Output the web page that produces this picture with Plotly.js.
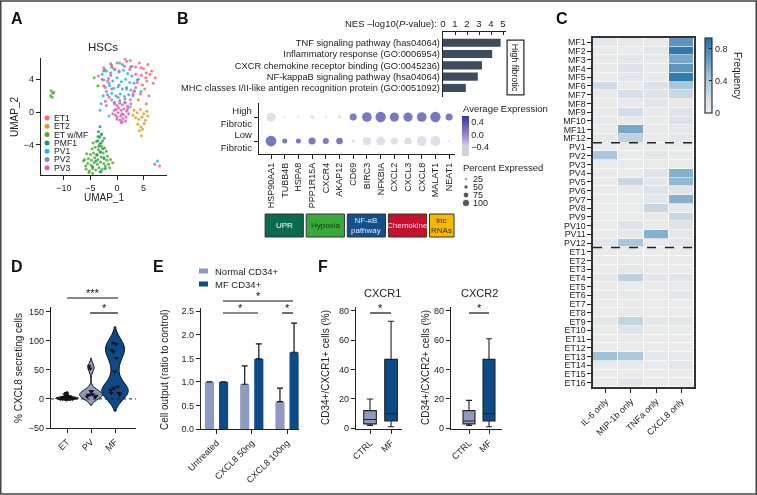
<!DOCTYPE html>
<html>
<head>
<meta charset="utf-8">
<script src="https://cdn.plot.ly/plotly-3.0.1.min.js"></script>
<style>
  html, body { margin: 0; padding: 0; background: #fff; }
  #fig { width: 757px; height: 495px; will-change: transform; }
</style>
</head>
<body>
<div id="fig"></div>
<script>
const W = 757, H = 495;
const fx = x => x / W;
const fy = y => 1 - y / H;
const FONT = "Liberation Sans, Arial, sans-serif";
const INK = "#222";

// ---- A: UMAP of HSCs ----
const umapNames = ["ET1", "ET2", "ET w/MF", "PMF1", "PV1", "PV2", "PV3"];
const umapColors = ["#f26b6b", "#d8a21f", "#4cae38", "#139a78", "#2ab2e8", "#9b7bd0", "#e85aa9"];

const et1X = [3.5, 4.2, 5.0, 5.8, 6.5, 4.6, 5.4, 6.2, 3.8, 4.8, 5.6, 6.8, 3.2, 4.4, 5.2, 6.0, 2.5, 1.5, 0.5, -1.0, 4.0, 5.5, 7.2, -2.5];
const et1Y = [5.5, 6.0, 5.3, 5.8, 5.0, 4.5, 4.2, 4.6, 3.6, 3.3, 3.8, 3.5, 2.5, 2.2, 2.8, 2.0, 6.3, 6.5, 6.0, 5.7, 1.5, 1.0, 4.2, 5.4];
const et2X = [3.2, 3.8, 4.4, 5.0, 5.6, 3.5, 4.1, 4.7, 5.3, 3.9, 4.5, 5.1, 4.2, 4.8, 4.6, 3.0, 5.8, 2.5];
const et2Y = [0.2, -0.1, 0.3, -0.2, 0.1, -0.7, -0.9, -0.6, -1.0, -1.5, -1.8, -1.4, -2.3, -2.1, -2.9, -0.4, -0.5, 0.6];
const etmfX = [-5.8, -5.2, -4.6, -4.0, -3.4, -2.8, -2.2, -1.6, -5.5, -4.9, -4.3, -3.7, -3.1, -2.5, -1.9, -6.1, -5.4, -4.8, -4.2, -3.6,
  -3.0, -2.4, -1.8, -1.2, -5.7, -5.0, -4.4, -3.8, -3.2, -2.6, -2.0, -4.7, -4.1, -3.5, -2.9, -2.3, -4.5, -3.9, -3.3, -2.7,
  -3.6, -3.0, -2.4, -5.9, -6.3, -1.4, -0.8, -5.3, -4.6, -3.2, -12.4, -12.1, -12.5, -12.2, -11.9, -4.3, -3.6, -2.5, -1.0];
const etmfY = [-7.0, -7.2, -6.9, -7.1, -6.8, -7.0, -6.6, -6.4, -6.3, -6.5, -6.2, -6.4, -6.1, -6.3, -5.9, -5.8, -5.7, -5.9, -5.6, -5.8,
  -5.5, -5.7, -5.4, -5.8, -5.1, -5.2, -5.0, -5.3, -4.9, -5.0, -4.8, -4.5, -4.3, -4.6, -4.2, -4.4, -3.8, -3.6, -3.9, -3.5,
  -3.0, -2.8, -3.2, -6.6, -6.0, -6.8, -6.2, -7.4, -7.5, -7.3, 2.6, 2.3, 2.0, 1.8, 2.4, 4.2, 3.2, 5.0, 5.5];
const pmf1X = [-3.2, -3.5, -2.9, -3.3, -3.6, -3.0, -3.4, -2.7, -3.1, -3.8, -4.0, -2.5, -4.6, -3.0, -2.2];
const pmf1Y = [-1.8, -2.4, -2.7, -3.1, -3.5, -3.8, -4.2, -4.5, -4.9, -5.2, -6.0, -5.6, -6.7, -7.3, -6.9];
const pv1X = [-2.8, -2.0, -1.2, -0.4, 0.4, 1.2, 2.0, 2.8, -2.5, -1.6, -0.8, 0.0, 0.8, 1.6, 2.4, 3.2, -2.2, -1.4, -0.6, 0.2, 1.0,
  1.8, 2.6, -1.8, -1.0, -0.2, 0.6, 1.4, 2.2, 3.0, -0.5, 0.5, 1.5, -2.6, -3.0, -3.2, 0.0, 1.0, 2.5, 4.0, 4.5, -1.5, 7.6];
const pv1Y = [4.6, 5.0, 4.8, 5.2, 4.9, 5.1, 4.7, 4.4, 3.9, 4.1, 3.8, 4.2, 3.7, 4.0, 3.6, 3.5, 3.0, 3.2, 2.9, 3.1, 2.8,
  3.0, 2.7, 2.1, 2.3, 2.0, 2.2, 1.9, 2.1, 2.0, 1.2, 1.4, 1.1, 2.0, 1.0, 0.2, 6.0, 5.8, 5.5, 4.0, 2.5, -0.5, -6.0];
const pv2X = [-1.0, 0.2, 1.5, 2.6, -2.0, -0.5, 0.9, 2.0, 3.3, -1.5, 0.4, 1.8, 3.8, 0.0, 1.0, -2.3, 2.8, 7.1];
const pv2Y = [1.5, 1.8, 1.6, 1.0, 0.8, 0.2, -0.2, 0.4, 2.6, 3.5, 3.3, 2.8, 3.9, -0.6, -1.2, 5.2, 5.6, -6.4];
const pv3X = [-0.5, 0.0, 0.5, 1.0, 1.5, 2.0, -0.2, 0.3, 0.8, 1.3, 1.8, -0.8, -0.3, 0.2, 0.7, 1.2, 1.7, 2.2, 0.0, 0.6, 1.1, 1.6,
  -1.5, -2.0, -2.5, -1.0, -1.8, -2.8, 2.5, 3.0, 3.5, -1.2, -0.6, 0.4, 1.4, 2.4, -3.5, -2.2, 0.8, 3.5, 4.5, 5.5, -1.2, 1.8, 8.0];
const pv3Y = [1.0, 0.8, 1.1, 0.9, 1.2, 0.7, 0.3, 0.5, 0.2, 0.4, 0.1, -0.2, -0.4, -0.1, -0.5, -0.3, -0.6, -0.2, -0.9, -1.0, -0.8, -1.1,
  1.8, 2.5, 3.2, 2.8, 3.8, 4.0, 1.5, 2.2, 3.0, 4.5, 5.3, 5.0, 5.6, 5.2, 4.4, 1.3, -1.3, 4.6, 5.4, 4.8, 5.9, 6.2, -6.6];
const umapX = [et1X, et2X, etmfX, pmf1X, pv1X, pv2X, pv3X];
const umapY = [et1Y, et2Y, etmfY, pmf1Y, pv1Y, pv2Y, pv3Y];

// ---- B: pathway enrichment + dot plot ----
const pathways = ["TNF signaling pathway (has04064)", "Inflammatory response (GO:0006954)",
  "CXCR chemokine receptor binding (GO:0045236)", "NF-kappaB signaling pathway (hsa04064)",
  "MHC classes I/II-like antigen recognition protein (GO:0051092)"];
const nesLogP = [4.8, 4.1, 3.25, 2.9, 1.9];

const genes = ["HSP90AA1", "TUBB4B", "HSPA8", "PPP1R15A", "CXCR4", "AKAP12", "CD69", "BIRC3", "NFKBIA", "CXCL2", "CXCL3", "CXCL8", "MALAT1", "NEAT1"];
const fibroRows = ["High Fibrotic", "Low Fibrotic"];
const exprHigh = [-0.50, -0.52, -0.52, -0.48, -0.52, -0.48, 0.50, 0.54, 0.55, 0.53, 0.52, 0.54, 0.55, 0.52];
const exprLow = [0.55, 0.52, 0.52, 0.53, 0.52, 0.52, -0.52, -0.50, -0.50, -0.50, -0.50, -0.48, -0.48, -0.55];
const pctHigh = [88, 18, 18, 38, 18, 33, 68, 92, 98, 88, 88, 92, 98, 68];
const pctLow = [102, 48, 48, 68, 58, 63, 28, 78, 84, 68, 68, 92, 94, 18];
const pctLegend = [25, 50, 75, 100];
const geneGroups = [
  { label: "UPR", first: 0, last: 2, fill: "#0b6a50", text: "#ffffff" },
  { label: "Hypoxia", first: 3, last: 5, fill: "#3aa83a", text: "#12361a" },
  { label: "NF-\u03baB<br>pathway", first: 6, last: 8, fill: "#134f8c", text: "#e2e9f6" },
  { label: "Chemokine", first: 9, last: 11, fill: "#c8102e", text: "#fde3e7" },
  { label: "lnc<br>RNAs", first: 12, last: 13, fill: "#f6b800", text: "#3a2a00" }
];

// ---- C: cytokine secretion frequency ----
const cytokines = ["IL-6 only", "MIP-1b only", "TNFa only", "CXCL8 only"];
const mfRows = ["MF1", "MF2", "MF3", "MF4", "MF5", "MF6", "MF7", "MF8", "MF9", "MF10", "MF11", "MF12"];
const pvRows = ["PV1", "PV2", "PV3", "PV4", "PV5", "PV6", "PV7", "PV8", "PV9", "PV10", "PV11", "PV12"];
const etRows = ["ET1", "ET2", "ET3", "ET4", "ET5", "ET6", "ET7", "ET8", "ET9", "ET10", "ET11", "ET12", "ET13", "ET14", "ET15", "ET16"];
const mfFreq = [[0.05, 0.03, 0.03, 0.70], [0.03, 0.02, 0.06, 0.86], [0.03, 0.06, 0.03, 0.60], [0.03, 0.12, 0.03, 0.70],
  [0.02, 0.08, 0.03, 0.86], [0.22, 0.01, 0.15, 0.40], [0.03, 0.18, 0.12, 0.25], [0.02, 0.04, 0.08, 0.04],
  [0.03, 0.20, 0.03, 0.10], [0.05, 0.03, 0.02, 0.15], [0.02, 0.60, 0.03, 0.05], [0.05, 0.30, 0.02, 0.06]];
const pvFreq = [[0.02, 0.02, 0.02, 0.02], [0.40, 0.02, 0.06, 0.03], [0.02, 0.02, 0.02, 0.02], [0.03, 0.02, 0.12, 0.55],
  [0.02, 0.25, 0.05, 0.50], [0.02, 0.02, 0.12, 0.10], [0.02, 0.02, 0.06, 0.55], [0.02, 0.02, 0.25, 0.04],
  [0.02, 0.02, 0.03, 0.25], [0.02, 0.12, 0.02, 0.10], [0.02, 0.05, 0.55, 0.05], [0.08, 0.40, 0.02, 0.08]];
const etFreq = [[0.01, 0.01, 0.01, 0.01], [0.01, 0.02, 0.01, 0.01], [0.01, 0.05, 0.01, 0.01], [0.05, 0.30, 0.08, 0.10],
  [0.01, 0.02, 0.01, 0.01], [0.03, 0.04, 0.01, 0.06], [0.01, 0.02, 0.01, 0.01], [0.01, 0.03, 0.01, 0.01],
  [0.06, 0.28, 0.05, 0.06], [0.02, 0.10, 0.02, 0.02], [0.01, 0.03, 0.01, 0.02], [0.01, 0.02, 0.01, 0.01],
  [0.45, 0.38, 0.05, 0.03], [0.01, 0.03, 0.01, 0.06], [0.01, 0.01, 0.01, 0.01], [0.01, 0.08, 0.01, 0.01]];

// ---- D: % CXCL8 secreting cells ----
const diseases = ["ET", "PV", "MF"];
const cxcl8ET = [0, 1, 2, 0, 3, 5, 8, 1, 0, 2, 1, 0, 4, 2, 1, 0, 3, 2, 10];
const cxcl8PV = [56, 52, 13, 13, 7, 4, 7, 5, 8, 3];
const cxcl8MF = [96, 94, 84, 81, 70, 47, 21, 15, 18, 7, 10, 10];

// ---- E: cell output ----
const treatments = ["Untreated", "CXCL8 50ng", "CXCL8 100ng"];
const normalOut = [1.0, 0.95, 0.58];
const normalErr = [0, 0.39, 0.29];
const mfOut = [1.0, 1.49, 1.63];
const mfErr = [0, 0.32, 0.62];

// ---- F: CXCR1 / CXCR2 ----
const fGroups = ["CTRL", "MF"];
const cxcr1Stats = { lo: [2, 1], q1: [3, 5], med: [6, 10], q3: [12, 47], hi: [20, 73] };
const cxcr2Stats = { lo: [2, 1], q1: [3, 5], med: [5, 10], q3: [12, 47], hi: [19, 61] };

// significance brackets (pixel positions on the page)
const sigBars = [
  { x0: 67, x1: 118, y: 298, text: "***" },
  { x0: 90, x1: 118, y: 313, text: "*" },
  { x0: 223, x1: 293, y: 301, text: "*" },
  { x0: 223, x1: 258, y: 313, text: "*" },
  { x0: 282, x1: 293, y: 313, text: "*" },
  { x0: 370, x1: 391, y: 313, text: "*" },
  { x0: 469, x1: 489, y: 313, text: "*" }
];

const normalColor = "#8e9ac0";
const mfColor = "#0d4a88";

function ax(domain, range, extra) {
  return Object.assign({
    domain, range, showgrid: false, zeroline: false, showline: true,
    linecolor: INK, linewidth: 1.2, ticks: "outside", ticklen: 4, tickwidth: 1, tickcolor: INK,
    tickfont: { family: FONT, size: 9, color: INK }, fixedrange: true
  }, extra || {});
}

const traces = [];
const shapes = [];
const annotations = [];

function label(text, x, y, opts) {
  annotations.push(Object.assign({
    text, x: fx(x), y: fy(y), xref: "paper", yref: "paper", showarrow: false,
    font: { family: FONT, size: 9, color: INK }, xanchor: "center", yanchor: "middle"
  }, opts || {}));
}

// A
umapNames.forEach((name, i) => {
  traces.push({
    type: "scatter", mode: "markers", x: umapX[i], y: umapY[i], xaxis: "x", yaxis: "y",
    marker: { size: 3, color: umapColors[i], opacity: 0.85 }, hoverinfo: "skip"
  });
});
traces.push({
  type: "scatter", mode: "markers", xaxis: "x9", yaxis: "y9",
  x: umapNames.map(() => 47), y: umapNames.map((n, i) => 118 + i * 8.3),
  marker: { size: 5, color: umapColors }, hoverinfo: "skip"
});
umapNames.forEach((name, i) => label(name, 52, 118 + i * 8.3, { xanchor: "left", font: { family: FONT, size: 8.6, color: INK } }));

// B bars
traces.push({
  type: "bar", orientation: "h", x: nesLogP, y: pathways, xaxis: "x2", yaxis: "y2",
  marker: { color: "#3f4b5e" }, width: 0.72, hoverinfo: "skip"
});

// B dot plot
traces.push({
  type: "scatter", mode: "markers", xaxis: "x3", yaxis: "y3",
  x: genes.concat(genes), y: genes.map(() => fibroRows[0]).concat(genes.map(() => fibroRows[1])),
  marker: {
    size: pctHigh.concat(pctLow).map(p => p * 0.105),
    color: exprHigh.concat(exprLow), cmin: -0.68, cmax: 0.6,
    colorscale: [[0, "#d2d2d4"], [0.25, "#d6cee6"], [0.55, "#9580c4"], [1, "#3437a6"]],
    line: { width: 0 },
    colorbar: {
      x: fx(462), xanchor: "left", y: fy(136), yanchor: "middle", len: 40 / H, lenmode: "fraction",
      thickness: 7, outlinewidth: 0, tickvals: [-0.4, 0, 0.4], ticktext: ["\u22120.4", "0.0", "0.4"],
      ticks: "", tickfont: { family: FONT, size: 9, color: INK }, xpad: 0, ypad: 0
    }
  },
  hoverinfo: "skip"
});
traces.push({
  type: "scatter", mode: "markers", xaxis: "x9", yaxis: "y9",
  x: pctLegend.map(() => 466), y: pctLegend.map((p, i) => 179 + i * 8),
  marker: { size: pctLegend.map(p => 1.2 + p * 0.062), color: "#111" }, hoverinfo: "skip"
});
pctLegend.forEach((p, i) => label(String(p), 471, 179 + i * 8, { xanchor: "left" }));
label("Average Expression", 461, 109, { xanchor: "left", font: { family: FONT, size: 9.5, color: INK } });
label("Percent Expressed", 461, 168, { xanchor: "left", font: { family: FONT, size: 9.5, color: INK } });
label("NES \u2013log10(<i>P</i>-value):", 439, 24, { xanchor: "right", font: { family: FONT, size: 9.5, color: INK } });
label("High fibrotic", 515.5, 67, {
  textangle: 90, bordercolor: INK, borderwidth: 1.2, borderpad: 3
});
geneGroups.forEach(g => {
  shapes.push({
    type: "rect", xref: "x3", yref: "paper", x0: g.first - 0.43, x1: g.last + 0.36, y0: fy(237), y1: fy(214),
    fillcolor: g.fill, line: { color: "#333", width: 1 }
  });
  annotations.push({
    text: g.label, xref: "x3", yref: "paper", x: (g.first + g.last) / 2 - 0.04, y: fy(225.5), showarrow: false,
    font: { family: FONT, size: 8, color: g.text }, xanchor: "center", yanchor: "middle"
  });
});

// C heatmap
const heatRows = mfRows.concat(pvRows, etRows);
traces.push({
  type: "heatmap", x: cytokines, y: heatRows, z: mfFreq.concat(pvFreq, etFreq), xaxis: "x4", yaxis: "y4",
  zmin: 0, zmax: 0.93, xgap: 1, ygap: 0.6,
  colorscale: [[0, "#ebebeb"], [0.2, "#d6dee6"], [0.5, "#9dbfd6"], [1, "#1d6ea6"]],
  colorbar: {
    x: fx(705), xanchor: "left", y: fy(75.5), yanchor: "middle", len: 75 / H, lenmode: "fraction",
    thickness: 7, outlinewidth: 1.2, outlinecolor: "#333", tickvals: [0, 0.4, 0.8], ticktext: ["0", "0.4", "0.8"],
    ticks: "inside", ticklen: 3, tickcolor: "#222", tickfont: { family: FONT, size: 9, color: INK }, xpad: 0, ypad: 0
  },
  hoverinfo: "skip"
});
[mfRows.length - 0.5, mfRows.length + pvRows.length - 0.5].forEach(yv => {
  shapes.push({ type: "line", xref: "x4", yref: "y4", x0: -0.5, x1: 3.55, y0: yv, y1: yv, line: { color: "#222", width: 1.5, dash: "dash" } });
});
label("Frequency", 737, 75, { textangle: 90, font: { family: FONT, size: 10, color: INK } });

// D violins
[[cxcl8ET, "#3a3a3a", 0.95, 1.6], [cxcl8PV, normalColor, 0.95, 7], [cxcl8MF, mfColor, 1.1, 14]].forEach((d, i) => {
  traces.push({
    type: "violin", x0: diseases[i], y: d[0], xaxis: "x5", yaxis: "y5", width: d[2], bandwidth: d[3],
    spanmode: "soft", fillcolor: d[1], line: { color: "#111", width: 1 }, points: "all", pointpos: 0, jitter: 0.7,
    marker: { symbol: "triangle-down", size: 4.5, color: "#111" }, box: { visible: false }, meanline: { visible: false },
    hoverinfo: "skip", opacity: 1
  });
});
shapes.push({ type: "line", xref: "x5", yref: "y5", x0: -0.667, x1: 2.875, y0: 0, y1: 0, line: { color: "#222", width: 1, dash: "dot" } });

// E bars
traces.push({
  type: "bar", x: treatments, y: normalOut, xaxis: "x6", yaxis: "y6", width: 0.26, offset: -0.33,
  marker: { color: normalColor }, hoverinfo: "skip",
  error_y: { type: "data", symmetric: false, array: normalErr, arrayminus: normalOut.map(() => 0), color: "#111", thickness: 1.2, width: 3 }
});
traces.push({
  type: "bar", x: treatments, y: mfOut, xaxis: "x6", yaxis: "y6", width: 0.26, offset: 0.07,
  marker: { color: mfColor }, hoverinfo: "skip",
  error_y: { type: "data", symmetric: false, array: mfErr, arrayminus: mfOut.map(() => 0), color: "#111", thickness: 1.2, width: 3 }
});
[["Normal CD34+", normalColor], ["MF CD34+", mfColor]].forEach((it, i) => {
  const y = 271 + i * 13;
  shapes.push({ type: "rect", xref: "x9", yref: "y9", x0: 199, x1: 208, y0: y - 2.5, y1: y + 2.5, fillcolor: it[1], line: { width: 0 } });
  label(it[0], 213, y, { xanchor: "left", font: { family: FONT, size: 9.5, color: INK } });
});

// F boxes
function boxes(stats, xa, ya) {
  fGroups.forEach((g, i) => {
    traces.push({
      type: "box", x: [g], q1: [stats.q1[i]], median: [stats.med[i]], q3: [stats.q3[i]],
      lowerfence: [stats.lo[i]], upperfence: [stats.hi[i]], xaxis: xa, yaxis: ya,
      fillcolor: i === 0 ? normalColor : mfColor, line: { color: "#222", width: 1.1 },
      width: 0.6, whiskerwidth: 0.5, boxpoints: false, hoverinfo: "skip"
    });
  });
}
boxes(cxcr1Stats, "x7", "y7");
boxes(cxcr2Stats, "x8", "y8");

// significance brackets
sigBars.forEach(s => {
  shapes.push({ type: "line", xref: "x9", yref: "y9", x0: s.x0, x1: s.x1, y0: s.y, y1: s.y, line: { color: "#111", width: 1.2 } });
  annotations.push({
    text: s.text, xref: "x9", yref: "y9", x: (s.x0 + s.x1) / 2, y: s.y + 3, showarrow: false,
    xanchor: "center", yanchor: "bottom", font: { family: FONT, size: 11, color: "#111" }
  });
});

// titles and labels
const panelFont = { family: FONT, size: 16, color: "#111" };
[["A", 16.5, 18.5], ["B", 182.5, 18.5], ["C", 562, 18.5], ["D", 16.5, 266], ["E", 158.5, 266], ["F", 323, 266]]
  .forEach(p => label("<b>" + p[0] + "</b>", p[1], p[2], { font: panelFont }));
label("HSCs", 103, 47, { font: { family: FONT, size: 11.5, color: INK } });
label("UMAP_1", 104, 197, { font: { family: FONT, size: 10, color: INK } });
label("UMAP_2", 15, 117, { textangle: -90, font: { family: FONT, size: 10, color: INK } });
label("% CXCL8 secreting cells", 18, 368, { textangle: -90, font: { family: FONT, size: 10, color: INK } });
label("Cell output (ratio to control)", 164, 370, { textangle: -90, font: { family: FONT, size: 10, color: INK } });
label("CD34+/CXCR1+ cells (%)", 325, 368, { textangle: -90, font: { family: FONT, size: 10, color: INK } });
label("CD34+/CXCR2+ cells (%)", 425, 368, { textangle: -90, font: { family: FONT, size: 10, color: INK } });
label("CXCR1", 382, 293, { font: { family: FONT, size: 11, color: INK } });
label("CXCR2", 479, 293, { font: { family: FONT, size: 11, color: INK } });

shapes.push({ type: "rect", xref: "paper", yref: "paper", x0: 0.001, x1: 0.999, y0: 0.002, y1: 0.998, line: { color: "#444", width: 1.5 } });

const layout = {
  width: W, height: H, margin: { l: 0, r: 0, t: 0, b: 0 },
  paper_bgcolor: "#fff", plot_bgcolor: "rgba(0,0,0,0)", showlegend: false,
  font: { family: FONT, size: 9, color: INK },
  xaxis: ax([fx(41), fx(167)], [-14.3, 9.4], { anchor: "y", tickvals: [-10, -5, 0, 5] }),
  yaxis: ax([fy(175), fy(58)], [-7.7, 6.6], { anchor: "x", tickvals: [-4, 0, 4] }),
  xaxis2: ax([fx(443), fx(506)], [0, 5.25], { anchor: "y2", side: "top", ticks: "inside", ticklen: 3, tickvals: [0, 1, 2, 3, 4, 5], tickfont: { family: FONT, size: 9.5, color: INK } }),
  yaxis2: ax([fy(97), fy(32)], [4.8, -0.95], { anchor: "x2", type: "category", categoryarray: pathways, ticks: "", tickfont: { family: FONT, size: 9.3, color: INK } }),
  xaxis3: ax([fx(259), fx(455)], [-0.876, 13.43], { anchor: "y3", type: "category", categoryarray: genes, tickangle: -90, tickfont: { family: FONT, size: 9, color: INK } }),
  yaxis3: ax([fy(154), fy(103)], [1.54, -0.583], { anchor: "x3", type: "category", categoryarray: fibroRows, tickvals: fibroRows, ticktext: ["High<br>Fibrotic", "Low<br>Fibrotic"], tickfont: { family: FONT, size: 9.5, color: INK } }),
  xaxis4: ax([fx(593), fx(694)], [-0.5, 3.5], { anchor: "y4", type: "category", categoryarray: cytokines, tickangle: -45, mirror: true, linewidth: 1.6, linecolor: "#333" }),
  yaxis4: ax([fy(387), fy(38)], [heatRows.length - 0.5, -0.5], { anchor: "x4", type: "category", categoryarray: heatRows, tickvals: heatRows, ticktext: heatRows, mirror: true, linewidth: 1.6, linecolor: "#333", tickfont: { family: FONT, size: 8.8, color: INK } }),
  xaxis5: ax([fx(51), fx(136)], [-0.667, 2.875], { anchor: "y5", type: "category", categoryarray: diseases, tickangle: -45 }),
  yaxis5: ax([fy(428), fy(307)], [-50, 158], { anchor: "x5", tickvals: [-50, 0, 50, 100, 150] }),
  xaxis6: ax([fx(201), fx(299)], [-0.44, 2.34], { anchor: "y6", type: "category", categoryarray: treatments, tickangle: -45 }),
  yaxis6: ax([fy(429), fy(308)], [0, 2.57], { anchor: "x6", tickvals: [0, 0.5, 1, 1.5, 2, 2.5], tickformat: ".1f" }),
  xaxis7: ax([fx(356), fx(402)], [-0.667, 1.52], { anchor: "y7", type: "category", categoryarray: fGroups, tickangle: -45 }),
  yaxis7: ax([fy(429), fy(307)], [-0.5, 82.7], { anchor: "x7", tickvals: [0, 20, 40, 60, 80] }),
  xaxis8: ax([fx(451), fx(502)], [-0.9, 1.65], { anchor: "y8", type: "category", categoryarray: fGroups, tickangle: -45 }),
  yaxis8: ax([fy(429), fy(307)], [-0.5, 82.7], { anchor: "x8", tickvals: [0, 20, 40, 60, 80] }),
  xaxis9: { domain: [0, 1], range: [0, W], visible: false, anchor: "y9", fixedrange: true },
  yaxis9: { domain: [0, 1], range: [H, 0], visible: false, anchor: "x9", fixedrange: true },
  shapes, annotations
};

Plotly.newPlot("fig", traces, layout, { staticPlot: true, displayModeBar: false });
</script>
</body>
</html>
